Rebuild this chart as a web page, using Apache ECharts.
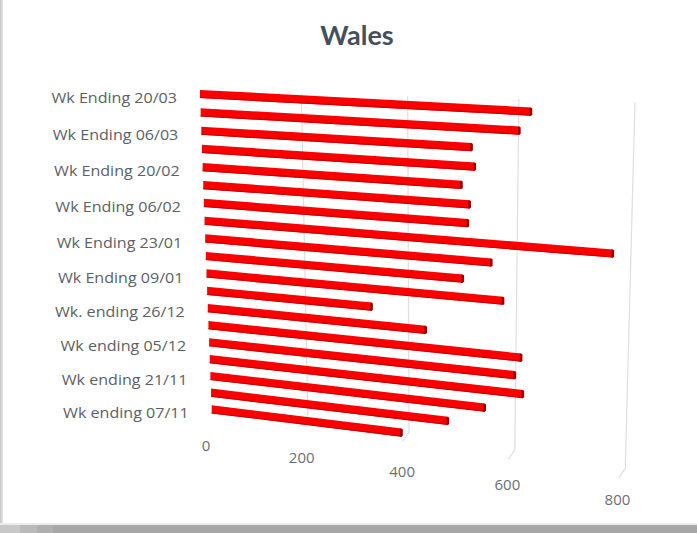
<!DOCTYPE html>
<html><head><meta charset="utf-8">
<script src="https://cdn.jsdelivr.net/npm/echarts@6/dist/echarts.min.js"></script>
<style>
html,body{margin:0;padding:0;background:#fff;}
#wrap{position:relative;width:697px;height:533px;overflow:hidden;background:#fff;}
#chart{position:absolute;left:0;top:0;width:697px;height:533px;}
#frameL{position:absolute;left:0;top:0;width:3px;height:533px;background:linear-gradient(to right,#c6c6c6,#e8e8e8);}
#frameB{position:absolute;left:0;top:525px;width:697px;height:8px;background:linear-gradient(to right,#c8c8c8 0,#c8c8c8 20px,#bababa 20px,#bababa 37px,#afafaf 37px,#afafaf 53px,#a7a7a7 53px);}
#frameB2{position:absolute;left:0;top:523px;width:697px;height:2px;background:#ececec;}
</style></head><body>
<div id="wrap"><div id="chart"></div><div id="frameL"></div><div id="frameB2"></div><div id="frameB"></div></div>
<script>
const categories = ['Wk ending 07/11','Wk ending 14/11','Wk ending 21/11','Wk ending 28/11','Wk ending 05/12','Wk ending 12/12','Wk. ending 26/12','Wk Ending 02/01','Wk Ending 09/01','Wk Ending 16/01','Wk Ending 23/01','Wk Ending 30/01','Wk Ending 06/02','Wk Ending 13/02','Wk Ending 20/02','Wk Ending 27/02','Wk Ending 06/03','Wk Ending 13/03','Wk Ending 20/03'];
const walesValues = [386,475,544,614,599,610,433,330,576,502,554,769,511,514,499,523,517,602,622];
const tickValues = [0,200,400,600,800];
const gridValues = [200,400,600,800];
const axisMax = 800;

// perspective-like view transform applied to the flat cartesian coordinates
function projector(api){
  const n = categories.length;
  const a = api.coord([0, n-1]);
  const b = api.coord([0, 0]);
  const c = api.coord([axisMax, n-1]);
  const spanY = b[1]-a[1], spanX = c[0]-a[0];
  return function(p, tFixed){
    const t = tFixed != null ? tFixed : (p[1]-a[1])/spanY;
    const u = (p[0]-a[0])/spanX;
    const d = (396.2 - 20.8*t)*u + 38.4*u*u;
    const x = a[0] + 11.7*t + d;
    const y = a[1] + 332.7*t - 17.4*t*t + (0.053+0.07*t)*d;
    return [x, y, t, u];
  };
}

const chart = echarts.init(document.getElementById('chart'), null, {renderer:'svg'});
const labelFont = '"Open Sans", sans-serif';
chart.setOption({
  animation:false,
  backgroundColor:'#ffffff',
  title:{text:'Wales', left:352, textAlign:'center', top:16,
    textStyle:{fontFamily:'Lato, "Open Sans", sans-serif', fontWeight:'bold', fontSize:27, color:'#464f5e'}},
  grid:{left:200, right:69, top:85.22, bottom:114.22},
  xAxis:{type:'value', min:0, max:axisMax, interval:200, show:false},
  yAxis:{type:'category', data:categories, show:false},
  series:[
    {
      type:'custom', name:'grid', z:1, silent:true,
      data: gridValues.map(v=>[v, categories.length-1]),
      encode:{x:0, y:1},
      renderItem(params, api){
        const P = projector(api);
        const f = api.coord([api.value(0), api.value(1)]);
        const u0 = P(f, 0)[3];
        const top = P(f, -0.01 - 0.03*u0);
        const bot = P(f, 0.965 + 0.06*u0);
        return {type:'polyline', shape:{points:[[top[0],top[1]],[bot[0],bot[1]],[bot[0]-6.5,bot[1]+9.5]]},
          style:{stroke:'#dedede', lineWidth:1.2, fill:null}};
      }
    },
    {
      type:'custom', name:'Wales', z:3,
      data: walesValues.map((v,i)=>[v,i]),
      encode:{x:0, y:1},
      renderItem(params, api){
        const P = projector(api);
        const idx = api.value(1);
        const s = P(api.coord([0, idx]));
        const e = P(api.coord([api.value(0), idx]));
        const h = 4.1;
        return {type:'group', children:[
          {type:'polygon', shape:{points:[[s[0],s[1]-h],[e[0],e[1]-h],[e[0],e[1]+h],[s[0],s[1]+h]]},
            style:{fill:'#fa0000'}},
          {type:'line', shape:{x1:s[0], y1:s[1]+h-0.6, x2:e[0], y2:e[1]+h-0.6},
            style:{stroke:'#cc0000', lineWidth:1.2}},
          {type:'polygon', shape:{points:[[e[0]-1.6,e[1]-h],[e[0]+1,e[1]-h+0.7],[e[0]+1,e[1]+h-0.7],[e[0]-1.6,e[1]+h]]},
            style:{fill:'#9a0000'}}
        ]};
      }
    },
    {
      type:'custom', name:'catLabels', z:4, silent:true,
      data: categories.map((c,i)=>[0,i]).filter((d,i)=>i%2===0),
      encode:{x:0, y:1},
      renderItem(params, api){
        const P = projector(api);
        const idx = api.value(1);
        const p = P(api.coord([0, idx]));
        return {type:'text', x:p[0]-23, y:p[1]+3.5, scaleX:1.11,
          style:{text:categories[idx], align:'right', verticalAlign:'middle',
            font:'14.5px ' + labelFont, fill:'#5b5f66'}};
      }
    },
    {
      type:'custom', name:'tickLabels', z:4, silent:true,
      data: tickValues.map(v=>[v,0]),
      encode:{x:0, y:1},
      renderItem(params, api){
        const P = projector(api);
        const v = api.value(0);
        const p = P(api.coord([v, 0]), 1.12);
        return {type:'text', x:p[0]-7, y:p[1],
          style:{text:String(v), align:'center', verticalAlign:'middle',
            font:'15px ' + labelFont, fill:'#6a6e74'}};
      }
    }
  ]
});
</script>
</body></html>
